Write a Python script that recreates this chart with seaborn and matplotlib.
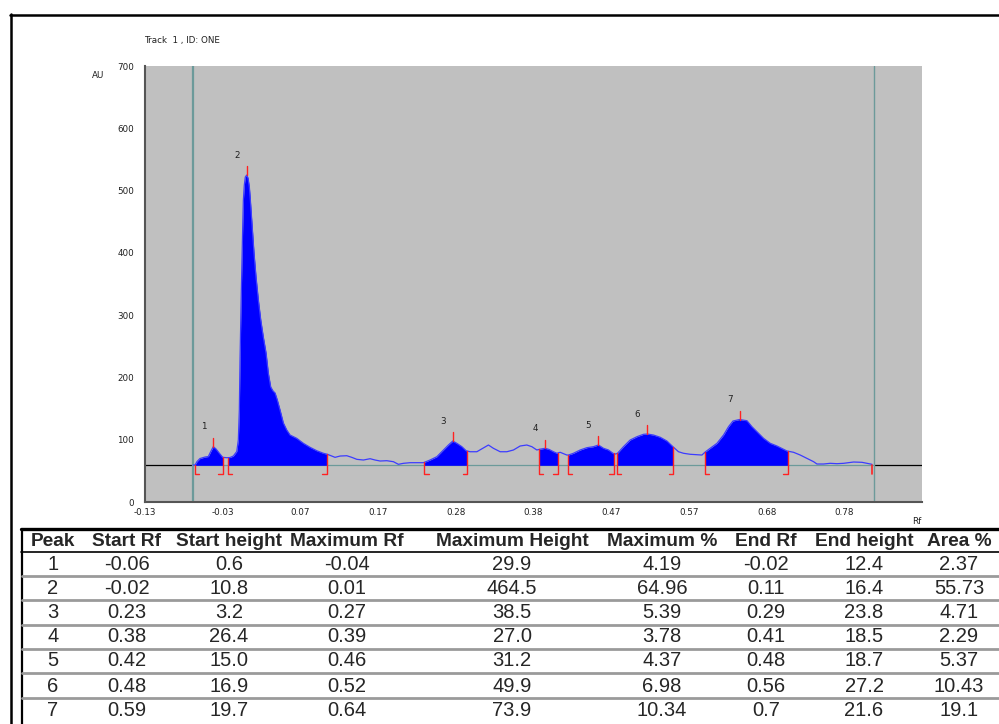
import numpy as np
import matplotlib
matplotlib.use("Agg")
import matplotlib.pyplot as plt
from matplotlib.lines import Line2D
import seaborn as sns
import pandas as pd

# ---------------- data ----------------
scan_rf = [-0.0682, -0.0656, -0.0630, -0.0592, -0.0527, -0.0485, -0.0450, -0.0421, -0.0386,
           -0.0343, -0.0300, -0.0248, -0.0206, -0.0163, -0.0119, -0.0099, -0.0086, -0.0077,
           -0.0068, -0.0060, -0.0051, -0.0042, -0.0034, -0.0022, -0.0009, 0.0009, 0.0026,
           0.0043, 0.0056, 0.0069, 0.0081, 0.0103, 0.0129, 0.0159, 0.0190, 0.0223, 0.0258,
           0.0287, 0.0318, 0.0348, 0.0374, 0.0403, 0.0438, 0.0481, 0.0524, 0.0567, 0.0653,
           0.0738, 0.0824, 0.0911, 0.0996, 0.1047, 0.1104, 0.1146, 0.1211, 0.1297, 0.1361,
           0.1426, 0.1511, 0.1597, 0.1661, 0.1726, 0.1812, 0.1897, 0.1961, 0.2026, 0.2112,
           0.2198, 0.2283, 0.2369, 0.2456, 0.2541, 0.2605, 0.2662, 0.2713, 0.2778, 0.2833,
           0.2884, 0.2971, 0.3048, 0.3120, 0.3184, 0.3271, 0.3357, 0.3442, 0.3528, 0.3614,
           0.3679, 0.3743, 0.3777, 0.3850, 0.3902, 0.3957, 0.4001, 0.4043, 0.4129, 0.4150,
           0.4214, 0.4301, 0.4387, 0.4472, 0.4536, 0.4601, 0.4665, 0.4722, 0.4751, 0.4781,
           0.4858, 0.4944, 0.5031, 0.5116, 0.5167, 0.5244, 0.5331, 0.5417, 0.5494, 0.5566,
           0.5631, 0.5717, 0.5803, 0.5868, 0.5910, 0.5974, 0.6061, 0.6146, 0.6210, 0.6267,
           0.6352, 0.6447, 0.6511, 0.6576, 0.6661, 0.6747, 0.6833, 0.6918, 0.6962, 0.7047,
           0.7133, 0.7219, 0.7305, 0.7348, 0.7433, 0.7519, 0.7606, 0.7691, 0.7820, 0.7928,
           0.7992, 0.8056]
scan_au = [59.4, 59.4, 65.0, 69.8, 72.2, 73.0, 81.9, 88.8, 85.1,
           78.2, 71.7, 71.1, 71.4, 73.8, 81.1, 99.5, 147.7, 227.9,
           292.1, 340.3, 396.5, 444.6, 484.7, 508.8, 521.7, 524.9, 520.1,
           505.6, 484.7, 460.7, 439.8, 399.7, 361.1, 324.2, 292.1, 264.8, 239.2,
           207.1, 184.6, 178.2, 175.0, 163.7, 147.7, 126.8, 115.6, 107.5, 102.2,
           94.2, 87.8, 82.3, 78.2, 76.6, 73.8, 71.7, 73.8, 74.3, 71.7,
           68.5, 67.4, 69.5, 67.4, 65.8, 66.3, 64.7, 60.5, 62.1, 63.1,
           63.1, 63.1, 67.4, 72.7, 83.5, 91.5, 97.9, 94.2, 88.8, 82.3,
           80.7, 80.7, 86.2, 91.5, 86.2, 80.7, 80.7, 83.5, 89.9, 91.5,
           88.8, 83.5, 84.6, 86.2, 84.3, 80.7, 78.2, 79.8, 75.4, 75.4,
           78.2, 83.5, 87.2, 88.8, 91.5, 86.2, 83.5, 78.2, 77.0, 78.2,
           88.8, 99.5, 104.8, 108.7, 109.1, 107.5, 103.9, 97.9, 88.8, 80.7,
           78.2, 76.6, 75.9, 75.4, 80.3, 86.2, 94.2, 107.5, 120.9, 130.0,
           132.4, 130.5, 120.9, 112.8, 102.2, 94.2, 89.9, 84.6, 81.9, 79.8,
           75.4, 70.1, 64.7, 61.0, 61.0, 62.1, 61.5, 62.1, 64.2, 63.7,
           62.1, 60.5]
baseline_au = 58.9

peak_ids = [1, 2, 3, 4, 5, 6, 7]
peak_from_rf = [-0.0656, -0.0235, 0.2296, 0.3769, 0.4146, 0.4773, 0.5906]
peak_to_rf = [-0.0300, 0.1039, 0.2842, 0.4009, 0.4730, 0.5494, 0.6970]
track_start_rf = -0.0677
track_end_rf = 0.8077

x_tick_labels = ["-0.13", "-0.03", "0.07", "0.17", "0.28", "0.38", "0.47", "0.57", "0.68", "0.78"]
y_ticks = [0, 100, 200, 300, 400, 500, 600, 700]

# results table
col_headers = ["Peak", "Start Rf", "Start height", "Maximum Rf", "Maximum Height",
               "Maximum %", "End Rf", "End height", "Area %"]
tbl_peak = ["1", "2", "3", "4", "5", "6", "7"]
tbl_start_rf = ["-0.06", "-0.02", "0.23", "0.38", "0.42", "0.48", "0.59"]
tbl_start_h = ["0.6", "10.8", "3.2", "26.4", "15.0", "16.9", "19.7"]
tbl_max_rf = ["-0.04", "0.01", "0.27", "0.39", "0.46", "0.52", "0.64"]
tbl_max_h = ["29.9", "464.5", "38.5", "27.0", "31.2", "49.9", "73.9"]
tbl_max_pct = ["4.19", "64.96", "5.39", "3.78", "4.37", "6.98", "10.34"]
tbl_end_rf = ["-0.02", "0.11", "0.29", "0.41", "0.48", "0.56", "0.7"]
tbl_end_h = ["12.4", "16.4", "23.8", "18.5", "18.7", "27.2", "21.6"]
tbl_area = ["2.37", "55.73", "4.71", "2.29", "5.37", "10.43", "19.1"]

# ---------------- styling ----------------
sns.set_style("white")
plt.rcParams["font.family"] = ["Liberation Sans", "DejaVu Sans"]
small = ["DejaVu Sans"]
small_size = 6.3

W, H = 999, 724
fig = plt.figure(figsize=(W / 100, H / 100), dpi=100)
fig.patch.set_facecolor("white")

# page-like overlay axes in pixel coordinates (for border and table)
pg = fig.add_axes([0, 0, 1, 1], zorder=0)
pg.set_xlim(0, W)
pg.set_ylim(H, 0)
pg.axis("off")

ax = fig.add_axes([145 / W, 1 - 502 / H, 777 / W, 436 / H], zorder=2)
ax.set_facecolor("#c0c0c0")

df = pd.DataFrame({"Rf": scan_rf, "AU": scan_au})
rf = np.array(scan_rf)
au = np.array(scan_au)

XMIN, XMAX = -0.13, 0.87
teal = "#6c9a9a"
red = "#ff2222"
mark = 14.0

# baseline
ax.hlines(baseline_au, XMIN, track_start_rf, color="black", lw=0.9, zorder=1)
ax.hlines(baseline_au, track_start_rf, track_end_rf, color=teal, lw=0.9, zorder=1)
ax.hlines(baseline_au, track_end_rf, XMAX, color="black", lw=0.9, zorder=1)

# track limits
ax.axvline(track_start_rf, color=teal, lw=1.6, zorder=1)
ax.axvline(track_end_rf, color=teal, lw=1.0, zorder=1)

# filled peaks
for pid, a, b in zip(peak_ids, peak_from_rf, peak_to_rf):
    inside = (rf > a) & (rf < b)
    xs = np.concatenate([[a], rf[inside], [b]])
    ys = np.interp(xs, rf, au)
    ax.fill_between(xs, baseline_au, ys, color="#0000ff", lw=0, zorder=3)

# scan line
sns.lineplot(data=df, x="Rf", y="AU", ax=ax, color="#3c3cff", lw=0.9,
             sort=False, estimator=None, zorder=4)

# integration marks
foot = 0.0055
for pid, a, b in zip(peak_ids, peak_from_rf, peak_to_rf):
    ya = np.interp(a, rf, au)
    yb = np.interp(b, rf, au)
    ax.plot([a, a, a + foot], [ya, baseline_au - mark, baseline_au - mark], color=red, lw=1.0, zorder=5)
    ax.plot([b, b, b - foot], [yb, baseline_au - mark, baseline_au - mark], color=red, lw=1.0, zorder=5)
    seg = (rf >= a) & (rf <= b)
    i = np.argmax(np.where(seg, au, -1))
    ax.plot([rf[i], rf[i]], [au[i], au[i] + mark], color=red, lw=1.0, zorder=5)
    ax.annotate(str(pid), (rf[i], au[i]), xytext=(-10, 20), textcoords="offset pixels",
                fontsize=small_size, family=small, ha="center", va="center",
                color="#202020", zorder=6)
ax.plot([track_end_rf - 0.0015] * 2, [baseline_au, baseline_au - mark], color=red, lw=1.2, zorder=5)

ax.set_xlim(XMIN, XMAX)
ax.set_ylim(0, 700)
ax.set_xticks([XMIN + 0.1 * k for k in range(len(x_tick_labels))])
ax.set_xticklabels(x_tick_labels, family=small)
ax.set_yticks(y_ticks)
ax.set_yticklabels([str(v) for v in y_ticks], family=small)
ax.tick_params(axis="both", labelsize=small_size, colors="#505050", labelcolor="#202020",
               direction="out", width=0.9)
ax.tick_params(axis="y", length=6, pad=2)
ax.tick_params(axis="x", length=3, pad=1.5)
ax.set_xlabel("")
ax.set_ylabel("")
for s in ["top", "right"]:
    ax.spines[s].set_visible(False)
for s in ["left", "bottom"]:
    ax.spines[s].set_color("#555555")
    ax.spines[s].set_linewidth(1.5)

fig.text(144 / W, 1 - 40 / H, "Track  1 , ID: ONE", fontsize=small_size, family=small,
         ha="left", va="center", color="#202020")
fig.text(98 / W, 1 - 75 / H, "AU", fontsize=small_size, family=small, ha="center",
         va="center", color="#202020")
fig.text(917 / W, 1 - 521 / H, "Rf", fontsize=small_size, family=small, ha="center",
         va="center", color="#202020")

# page border
pg.add_line(Line2D([10, W], [14.5, 14.5], color="black", lw=1.8))
pg.add_line(Line2D([11, 11], [14, H], color="black", lw=1.8))

# table
col_x = [53, 127, 229, 347, 512, 662, 766, 864, 959]
row_y = [564, 588, 612, 637, 661, 686, 711]
header_y = 541
pg.add_line(Line2D([21, W], [529, 529], color="black", lw=2.4))
pg.add_line(Line2D([21.5, 21.5], [529, H], color="black", lw=1.6))
pg.add_line(Line2D([21, W], [552, 552], color="black", lw=1.2))
for ysep in [576, 600, 625, 649, 673, 698]:
    pg.add_line(Line2D([22, W], [ysep, ysep], color="#9a9a9a", lw=2.0))

for x, h in zip(col_x, col_headers):
    pg.text(x, header_y, h, fontsize=13.8, fontweight="bold", ha="center", va="center")
columns = [tbl_peak, tbl_start_rf, tbl_start_h, tbl_max_rf, tbl_max_h,
           tbl_max_pct, tbl_end_rf, tbl_end_h, tbl_area]
for x, col in zip(col_x, columns):
    for y, v in zip(row_y, col):
        pg.text(x, y, v, fontsize=14.5, ha="center", va="center")

fig.savefig("out.png", dpi=100)
